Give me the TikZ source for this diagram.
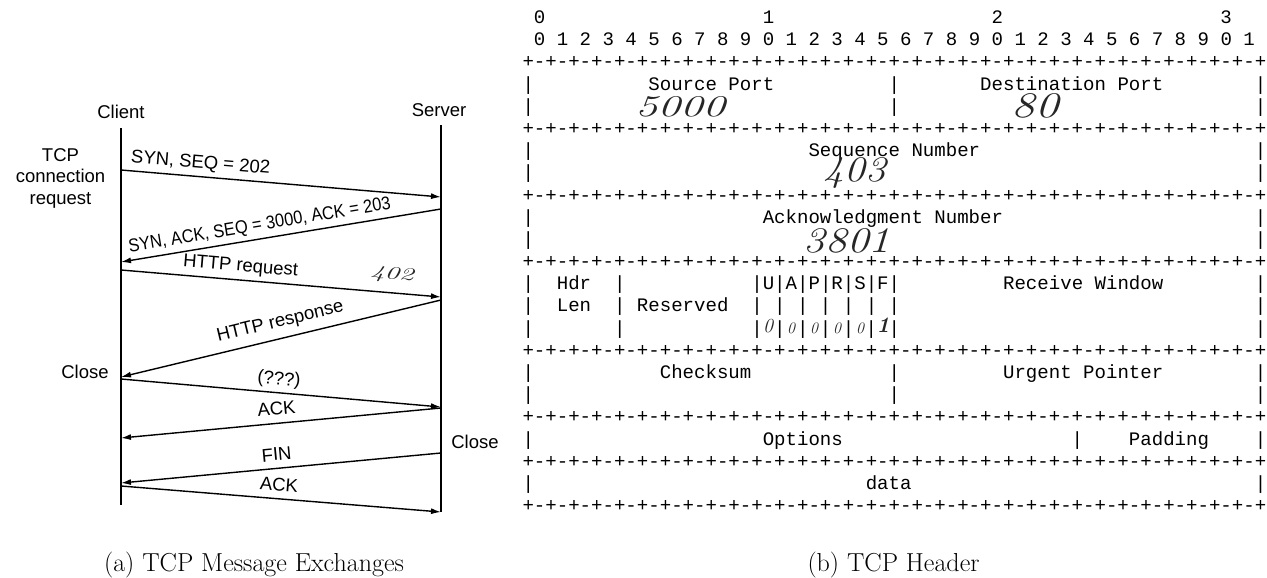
\documentclass[tikz,border=0pt]{standalone}
\usepackage{fontspec}
\newfontfamily\helv{Liberation Sans}
\newfontfamily\monof{Liberation Mono}
\usetikzlibrary{arrows.meta}
\newlength\cw
\setlength\cw{11.442pt}
\newcommand\gp[1]{\hspace*{#1\cw}}
\newcommand\plusrow{+-+-+-+-+-+-+-+-+-+-+-+-+-+-+-+-+-+-+-+-+-+-+-+-+-+-+-+-+-+-+-+-+}
\tikzset{
  life/.style={line width=1.6pt, black},
  msg/.style={line width=1.4pt, black, -{Latex[length=10pt,width=6pt]}},
  lbl/.style={font=\helv\fontsize{18.5}{21.5}\selectfont, inner sep=1pt},
  mlbl/.style={lbl, text height=14pt, text depth=4pt, sloped},
  asc/.style={anchor=base west, inner sep=0pt, font=\monof\fontsize{19.07}{20}\selectfont},
  hw/.style={inner sep=0pt, text=black!85, font=\itshape\fontsize{#1}{#1}\selectfont},
  hw/.default=30,
  capt/.style={anchor=base, inner sep=0pt, font=\fontsize{26}{30}\selectfont}
}
\begin{document}
\begin{tikzpicture}[x=1pt,y=1pt]
\useasboundingbox (0,-578) rectangle (1267,0);
\fill[white] (0,-578) rectangle (1267,0);

% ---------- (a) message exchanges ----------
\coordinate (ctop) at (121,-128); \coordinate (cbot) at (121,-505);
\coordinate (stop) at (441,-125); \coordinate (sbot) at (441,-512);
\draw[life] (ctop) -- (cbot);
\draw[life] (stop) -- (sbot);
\node[lbl] (client) at (121,-111.5) {Client};
\node[lbl] (server) at (439,-110) {Server};
\node[lbl, align=center] (req) at (60.5,-178) {TCP\\connection\\request};
\node[lbl] (cclose) at (85,-371.5) {Close};
\node[lbl] (sclose) at (475,-441.5) {Close};

\coordinate (c1) at (121,-170); \coordinate (s1) at (441,-197);
\coordinate (s2) at (441,-209); \coordinate (c2) at (121,-262);
\coordinate (c3) at (121,-270); \coordinate (s3) at (441,-297);
\coordinate (s4) at (441,-300); \coordinate (c4) at (121,-377);
\coordinate (c5) at (121,-379); \coordinate (s5) at (441,-407);
\coordinate (s6) at (441,-408); \coordinate (c6) at (121,-438);
\coordinate (s7) at (441,-453); \coordinate (c7) at (121,-483);
\coordinate (c8) at (121,-486); \coordinate (s8) at (441,-512);

\draw[msg] (c1) -- node[mlbl, pos=0.245, above=3pt] (m1) {SYN, SEQ = 202} (s1);
\draw[msg] (s2) -- node[mlbl, pos=0.56, above=2.5pt] (m2) {\scalebox{0.89}[1]{SYN, ACK, SEQ = 3000, ACK = 203}} (c2);
\draw[msg] (c3) -- node[mlbl, pos=0.37, above=3pt] (m3) {HTTP request} (s3);
\draw[msg] (s4) -- node[mlbl, pos=0.49, above=6pt] (m4) {HTTP response} (c4);
\draw[msg] (c5) -- node[mlbl, pos=0.49, above=2.5pt] (m5) {(???)} (s5);
\draw[msg] (s6) -- node[mlbl, pos=0.51, above=3pt] (m6) {ACK} (c6);
\draw[msg] (s7) -- node[mlbl, pos=0.51, above=2pt] (m7) {FIN} (c7);
\draw[msg] (c8) -- node[mlbl, pos=0.49, above=2.5pt] (m8) {ACK} (s8);
\node[hw=18, rotate=-5] (n402) at (392,-275) {\scalebox{1.6}[1]{402}};

% ---------- (b) TCP header (ASCII art) ----------
\foreach \t [count=\i] in {
  {\gp{1}0\gp{19}1\gp{19}2\gp{19}3},
  {\gp{1}0 1 2 3 4 5 6 7 8 9 0 1 2 3 4 5 6 7 8 9 0 1 2 3 4 5 6 7 8 9 0 1},
  {\plusrow},
  {|\gp{10}Source Port\gp{10}|\gp{7}Destination Port\gp{8}|},
  {|\gp{31}|\gp{31}|},
  {\plusrow},
  {|\gp{24}Sequence Number\gp{24}|},
  {|\gp{63}|},
  {\plusrow},
  {|\gp{20}Acknowledgment Number\gp{22}|},
  {|\gp{63}|},
  {\plusrow},
  {|\gp{2}Hdr\gp{2}|\gp{11}|U|A|P|R|S|F|\gp{9}Receive Window\gp{8}|},
  {|\gp{2}Len\gp{2}|\gp{1}Reserved\gp{2}|\gp{1}|\gp{1}|\gp{1}|\gp{1}|\gp{1}|\gp{1}|\gp{31}|},
  {|\gp{7}|\gp{11}|\gp{1}|\gp{1}|\gp{1}|\gp{1}|\gp{1}|\gp{1}|\gp{31}|},
  {\plusrow},
  {|\gp{11}Checksum\gp{12}|\gp{9}Urgent Pointer\gp{8}|},
  {|\gp{31}|\gp{31}|},
  {\plusrow},
  {|\gp{20}Options\gp{20}|\gp{4}Padding\gp{4}|},
  {\plusrow},
  {|\gp{29}data\gp{30}|},
  {\plusrow}}
  \node[asc] (r\i) at (522.3,{-(23.6+(\i-1)*22.18)}) {\t};

% handwritten values
\node[hw=30] (h5000) at (680,-107) {\scalebox{1.5}[1]{5000}};
\node[hw=36] (h80) at (1035,-106) {\scalebox{1.3}[1]{80}};
\node[hw=36] (h403) at (855,-173) {\scalebox{1.15}[1]{403}};
\node[hw=36] (h3801) at (847,-241) {\scalebox{1.2}[1]{3801}};
\node[hw=20] (fu) at (768,-326) {0};
\node[hw=16] (fa) at (791,-328) {0};
\node[hw=16] (fp) at (814,-328) {0};
\node[hw=16] (fr) at (837,-328) {0};
\node[hw=16] (fs) at (860,-328) {0};
\node[hw=22] (ff) at (883,-325) {\bfseries 1};

% ---------- captions ----------
\node[capt] (capa) at (254,-571) {(a) TCP Message Exchanges};
\node[capt] (capb) at (893.5,-571) {(b) TCP Header};
\end{tikzpicture}
\end{document}
